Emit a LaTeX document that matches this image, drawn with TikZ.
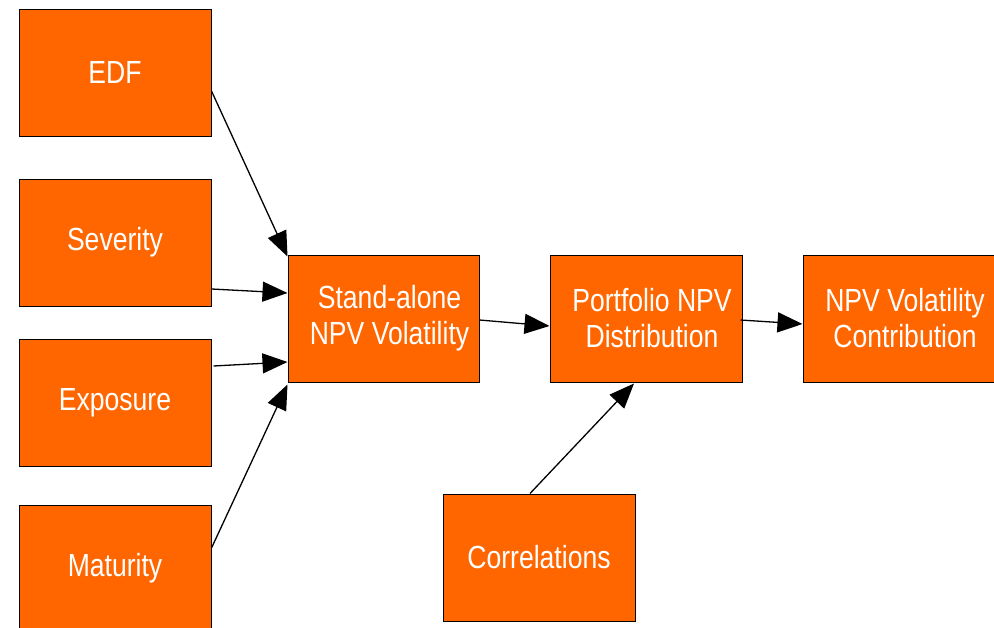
\documentclass[tikz,border=0pt]{standalone}
\usepackage{fontspec}
\newfontfamily\boxfont{Liberation Sans}[FakeStretch=0.83]
\usetikzlibrary{arrows.meta,calc}
\definecolor{boxorange}{HTML}{FF6600}
\newcommand{\rs}{\hspace*{12pt}}
\tikzset{
  box/.style={draw=black, line width=1pt, fill=boxorange, text=white,
    minimum width=192pt, minimum height=127pt, inner sep=0pt,
    align=center, font=\boxfont\fontsize{32}{36}\selectfont},
  arr/.style={draw=black, line width=1.3pt, -{Triangle[length=25pt,width=20pt]}}
}
\begin{document}
\begin{tikzpicture}[x=1pt,y=-1pt]
\useasboundingbox (0,0) rectangle (994,627);
\node[box] (edf) at (115,72.5) {EDF};
\node[box] (sev) at (115,242.5) {\raisebox{-4pt}{Severity}};
\node[box] (exp) at (115,402.5) {Exposure};
\node[box] (mat) at (115,568.5) {Maturity};
\node[box, minimum width=191pt] (sa) at (383.5,318.5) {\rs Stand-alone\\\rs NPV Volatility};
\node[box] (port) at (646,318.5) {\rs Portfolio NPV\\\rs Distribution};
\node[box] (contrib) at (899,318.5) {\rs NPV Volatility\\\rs Contribution};
\node[box] (corr) at (539,557.5) {Correlations};

\draw[arr] ($(edf.east)+(0,18.5)$) -- ($(sa.north west)+(0,2)$);
\draw[arr] ($(sev.east)+(0,46.5)$) -- ($(sa.west)+(0,-25.5)$);
\draw[arr] ($(exp.east)+(2,-36.5)$) -- ($(sa.west)+(0,43.5)$);
\draw[arr] ($(mat.east)+(0,-20.5)$) -- ($(sa.south west)+(0,2)$);
\draw[arr] ($(sa.east)+(0,1.5)$) -- ($(port.west)+(0,7.5)$);
\draw[arr] ($(port.east)+(-2,1.5)$) -- ($(contrib.west)+(0,5.5)$);
\draw[arr] ($(corr.north)+(-9,0)$) -- ($(port.south)+(-12,1)$);
\end{tikzpicture}
\end{document}
